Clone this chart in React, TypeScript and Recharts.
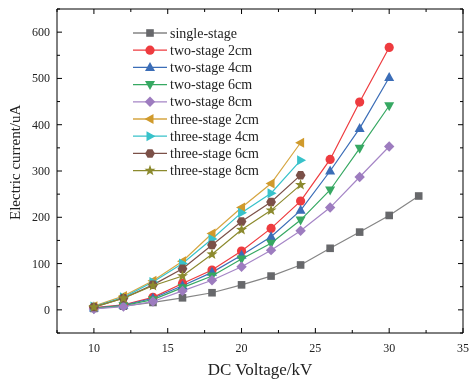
import React from 'react';
import { LineChart, Line, XAxis, YAxis, Legend } from 'recharts';

const voltage = [10, 12, 14, 16, 18, 20, 22, 24, 26, 28, 30, 32];

const singleStage = [3, 8, 16, 26, 37, 54, 73, 97, 133, 168, 204, 246];
const twoStage2 = [5, 11, 27, 57, 86, 127, 176, 235, 325, 449, 567];
const twoStage4 = [4, 10, 25, 52, 81, 118, 158, 215, 300, 392, 502];
const twoStage6 = [3, 9, 22, 48, 73, 110, 144, 194, 259, 349, 441];
const twoStage8 = [2, 7, 18, 41, 64, 93, 129, 171, 221, 287, 353];
const threeStage2 = [8, 30, 63, 105, 165, 221, 273, 361];
const threeStage4 = [7, 27, 60, 100, 153, 210, 252, 323];
const threeStage6 = [6, 25, 54, 89, 140, 191, 233, 291];
const threeStage8 = [6, 25, 52, 73, 120, 173, 215, 270];

const xTicks = [7.5, 10, 12.5, 15, 17.5, 20, 22.5, 25, 27.5, 30, 32.5, 35];
const yTicks = [-50, 0, 50, 100, 150, 200, 250, 300, 350, 400, 450, 500, 550, 600, 650];

const FONT = '"Liberation Serif", "Times New Roman", serif';

type Shape = 'square' | 'circle' | 'up' | 'down' | 'diamond' | 'left' | 'right' | 'hexagon' | 'star';

const series: { name: string; values: number[]; shape: Shape; color: string; line: string }[] = [
  { name: 'single-stage', values: singleStage, shape: 'square', color: '#67686b', line: '#858585' },
  { name: 'two-stage 2cm', values: twoStage2, shape: 'circle', color: '#ee3b3f', line: '#ee3b3f' },
  { name: 'two-stage 4cm', values: twoStage4, shape: 'up', color: '#3b6db7', line: '#3b6db7' },
  { name: 'two-stage 6cm', values: twoStage6, shape: 'down', color: '#36a862', line: '#36a862' },
  { name: 'two-stage 8cm', values: twoStage8, shape: 'diamond', color: '#9d7cbf', line: '#a585c6' },
  { name: 'three-stage 2cm', values: threeStage2, shape: 'left', color: '#d09a2c', line: '#d6a642' },
  { name: 'three-stage 4cm', values: threeStage4, shape: 'right', color: '#38c2ca', line: '#38c2ca' },
  { name: 'three-stage 6cm', values: threeStage6, shape: 'hexagon', color: '#7b5048', line: '#7b5048' },
  { name: 'three-stage 8cm', values: threeStage8, shape: 'star', color: '#8c8a2e', line: '#8c8a2e' },
];

const Marker = ({ shape, cx, cy, fill }: { shape: Shape; cx: number; cy: number; fill: string }) => {
  if (cx == null || cy == null) return null;
  const pts = (arr: number[][]) => arr.map(([x, y]) => `${cx + x},${cy + y}`).join(' ');
  switch (shape) {
    case 'square':
      return <rect x={cx - 3.8} y={cy - 3.8} width={7.6} height={7.6} fill={fill} />;
    case 'circle':
      return <circle cx={cx} cy={cy} r={4.6} fill={fill} />;
    case 'up':
      return <polygon points={pts([[0, -5.5], [5, 3.5], [-5, 3.5]])} fill={fill} />;
    case 'down':
      return <polygon points={pts([[0, 5.5], [5, -3.5], [-5, -3.5]])} fill={fill} />;
    case 'diamond':
      return <polygon points={pts([[0, -5.2], [5.2, 0], [0, 5.2], [-5.2, 0]])} fill={fill} />;
    case 'left':
      return <polygon points={pts([[-5.5, 0], [3.5, -5], [3.5, 5]])} fill={fill} />;
    case 'right':
      return <polygon points={pts([[5.5, 0], [-3.5, -5], [-3.5, 5]])} fill={fill} />;
    case 'hexagon': {
      const a = [0, 1, 2, 3, 4, 5].map((i) => {
        const t = (Math.PI / 3) * i;
        return [4.9 * Math.cos(t), 4.9 * Math.sin(t)];
      });
      return <polygon points={pts(a)} fill={fill} />;
    }
    case 'star': {
      const a: number[][] = [];
      for (let i = 0; i < 10; i++) {
        const r = i % 2 === 0 ? 5.8 : 2.4;
        const t = -Math.PI / 2 + (Math.PI / 5) * i;
        a.push([r * Math.cos(t), r * Math.sin(t)]);
      }
      return <polygon points={pts(a)} fill={fill} />;
    }
  }
  return null;
};

const BottomTick = (props: any) => {
  const { x, y, payload } = props;
  const v = payload.value;
  const major = v % 5 === 0;
  return (
    <g>
      <line x1={x} y1={y} x2={x} y2={y - (major ? 5 : 3)} stroke="#000" />
      {major && (
        <text x={x} y={y + 19} textAnchor="middle" fontSize={12} fontFamily={FONT} fill="#222">
          {v}
        </text>
      )}
    </g>
  );
};

const TopTick = (props: any) => {
  const { x, y, payload } = props;
  const major = payload.value % 5 === 0;
  return <line x1={x} y1={y} x2={x} y2={y + (major ? 5 : 3)} stroke="#000" />;
};

const LeftTick = (props: any) => {
  const { x, y, payload } = props;
  const v = payload.value;
  const major = v % 100 === 0;
  return (
    <g>
      <line x1={x} y1={y} x2={x + (major ? 5 : 3)} y2={y} stroke="#000" />
      {major && (
        <text x={x - 7} y={y + 4} textAnchor="end" fontSize={12} fontFamily={FONT} fill="#222">
          {v}
        </text>
      )}
    </g>
  );
};

const RightTick = (props: any) => {
  const { x, y, payload } = props;
  const major = payload.value % 100 === 0;
  return <line x1={x} y1={y} x2={x - (major ? 5 : 3)} y2={y} stroke="#000" />;
};

const LegendBox = () => (
  <svg width={200} height={160} style={{ display: 'block' }}>
    {series.map((s, i) => {
      const cy = 10 + i * 17.2;
      return (
        <g key={s.name}>
          <line x1={5} y1={cy} x2={39} y2={cy} stroke={s.line} strokeWidth={1.3} />
          <Marker shape={s.shape} cx={22} cy={cy} fill={s.color} />
          <text x={42} y={cy + 4.5} fontSize={14} fontFamily={FONT} fill="#222">
            {s.name}
          </text>
        </g>
      );
    })}
  </svg>
);

const frameData = singleStage.map((v, i) => ({ x: voltage[i], y: v }));

const App: React.FC = () => {
  return (
    <div style={{ position: 'fixed', left: 8, top: 8 }}>
      <LineChart width={462} height={375} margin={{ top: 0, right: 6, left: 0, bottom: 0 }}>
        <XAxis
          dataKey="x"
          type="number"
          domain={[7.5, 35]}
          ticks={xTicks}
          interval={0}
          allowDataOverflow
          height={50}
          tickSize={0}
          tickMargin={0}
          tick={<BottomTick />}
          stroke="#000"
          label={{ value: 'DC Voltage/kV', position: 'insideBottom', offset: 8, fontSize: 17, fontFamily: FONT, fill: '#222' }}
        />
        <XAxis
          xAxisId="top"
          dataKey="x"
          orientation="top"
          type="number"
          domain={[7.5, 35]}
          ticks={xTicks}
          interval={0}
          allowDataOverflow
          height={1}
          tickSize={0}
          tickMargin={0}
          tick={<TopTick />}
          stroke="#000"
        />
        <YAxis
          type="number"
          domain={[-50, 650]}
          ticks={yTicks}
          interval={0}
          allowDataOverflow
          width={49}
          tickSize={0}
          tickMargin={0}
          tick={<LeftTick />}
          stroke="#000"
          label={{ value: 'Electric current/uA', angle: -90, position: 'insideLeft', offset: 7, dy: 49, fontSize: 15, fontFamily: FONT, fill: '#222' }}
        />
        <YAxis
          yAxisId="right"
          orientation="right"
          type="number"
          domain={[-50, 650]}
          ticks={yTicks}
          interval={0}
          allowDataOverflow
          width={1}
          tickSize={0}
          tickMargin={0}
          tick={<RightTick />}
          stroke="#000"
        />
        <Legend
          layout="vertical"
          align="center"
          verticalAlign="middle"
          wrapperStyle={{ left: 120, top: 15, width: 200 }}
          content={() => <LegendBox />}
        />
        <Line
          xAxisId="top"
          yAxisId="right"
          data={frameData}
          dataKey="y"
          stroke="none"
          dot={false}
          activeDot={false}
          legendType="none"
          isAnimationActive={false}
        />
        {series.map((s) => (
          <Line
            key={s.name}
            name={s.name}
            data={s.values.map((v, i) => ({ x: voltage[i], y: v }))}
            dataKey="y"
            stroke={s.line}
            strokeWidth={1.2}
            isAnimationActive={false}
            dot={(p: any) => <Marker key={`${s.name}-${p.index}`} shape={s.shape} cx={p.cx} cy={p.cy} fill={s.color} />}
            activeDot={false}
          />
        ))}
      </LineChart>
    </div>
  );
};

export default App;
